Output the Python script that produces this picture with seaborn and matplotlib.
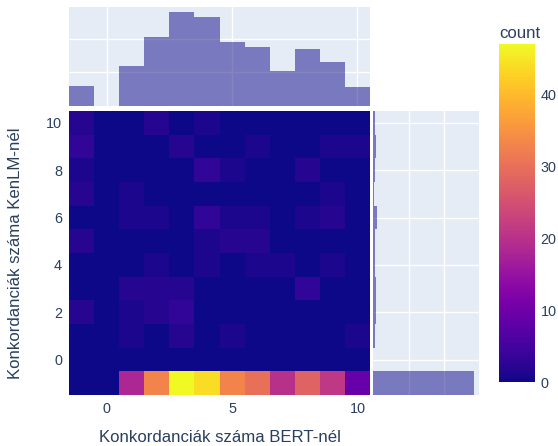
import numpy as np
import pandas as pd
import matplotlib
matplotlib.use("Agg")
import matplotlib.pyplot as plt
import seaborn as sns

# Concordance counts per sentence: BERT (x) vs KenLM (y); -1 marks "no result"
bert_values = [-1, 0, 1, 2, 3, 4, 5, 6, 7, 8, 9, 10]
kenlm_values = [10, 9, 8, 7, 6, 5, 4, 3, 2, 1, 0, -1]

# number of sentences for every (KenLM, BERT) pair; one row per KenLM value
pair_counts = [
    [2, 0, 0, 2, 0, 1, 0, 0, 0, 0, 0, 0],
    [3, 0, 0, 0, 2, 0, 0, 1, 0, 0, 1, 1],
    [1, 0, 0, 0, 0, 3, 1, 0, 0, 2, 0, 0],
    [2, 0, 1, 0, 0, 0, 0, 0, 0, 0, 1, 0],
    [0, 0, 1, 1, 0, 3, 1, 1, 0, 1, 2, 0],
    [2, 0, 0, 0, 0, 1, 2, 2, 0, 0, 0, 0],
    [0, 0, 0, 1, 0, 1, 0, 1, 1, 0, 1, 0],
    [0, 0, 2, 2, 2, 0, 0, 0, 0, 3, 0, 0],
    [2, 0, 1, 2, 3, 0, 0, 0, 0, 0, 0, 0],
    [0, 0, 1, 0, 2, 0, 1, 0, 0, 0, 0, 1],
    [0, 0, 0, 0, 0, 0, 0, 0, 0, 0, 0, 0],
    [0, 0, 18, 33, 47, 44, 33, 30, 20, 28, 21, 9],
]

x_ticks = [0, 5, 10]
y_ticks = [0, 2, 4, 6, 8, 10]
cbar_ticks = [0, 10, 20, 30, 40]

x_title = "Konkordanciák száma BERT-nél"
y_title = "Konkordanciák száma KenLM-nél"
cbar_title = "count"

# expand the table into one row per sentence
records = []
for k, row in zip(kenlm_values, pair_counts):
    for b, c in zip(bert_values, row):
        records.extend([(b, k)] * c)
df = pd.DataFrame(records, columns=["bert", "kenlm"])

TEXT = "#2a3f5f"
PANEL = "#E5ECF6"
BAR = "#0d0887"

sns.set_theme(style="white")
plt.rcParams["font.family"] = ["Liberation Sans", "DejaVu Sans"]
plt.rcParams["text.color"] = TEXT
plt.rcParams["axes.labelcolor"] = TEXT
plt.rcParams["xtick.color"] = TEXT
plt.rcParams["ytick.color"] = TEXT

W, H = 558, 446
fig = plt.figure(figsize=(W / 100, H / 100), dpi=100)


def box(x0, y0, x1, y1):
    return [x0 / W, 1 - y1 / H, (x1 - x0) / W, (y1 - y0) / H]


ax = fig.add_axes(box(69, 111, 370, 395))
ax_top = fig.add_axes(box(69, 7, 370, 106))
ax_right = fig.add_axes(box(373, 111, 479, 395))
cax = fig.add_axes(box(499, 44, 535, 382))

edges = np.arange(-1.5, 11.5, 1.0)

sns.histplot(
    data=df, x="bert", y="kenlm", bins=[edges, edges],
    cmap="plasma", thresh=None, vmin=0, vmax=47,
    cbar=True, cbar_ax=cax, ax=ax,
)
ax.set_xlim(-1.5, 10.5)
ax.set_ylim(-1.5, 10.5)
ax.set_xticks(x_ticks)
ax.set_yticks(y_ticks)
ax.tick_params(length=0, labelsize=10.4, pad=5)
ax.set_xlabel("")
ax.set_ylabel("")
for s in ax.spines.values():
    s.set_visible(False)

fig.text(219.5 / W, 1 - 437 / H, x_title, ha="center", va="center", fontsize=12.1)
fig.text(15.5 / W, 1 - 253 / H, y_title, ha="center", va="center",
         rotation=90, fontsize=12.1)

# marginal histograms
sns.histplot(data=df, x="bert", bins=edges, ax=ax_top, color=BAR,
             alpha=0.5, linewidth=0)
top_max = df["bert"].value_counts().max()
ax_top.set_xlim(-1.5, 10.5)
ax_top.set_ylim(0, top_max * 1.05)
ax_top.set_xticks(x_ticks)
ax_top.set_yticks([20, 40])

sns.histplot(data=df, y="kenlm", bins=edges, ax=ax_right, color=BAR,
             alpha=0.5, linewidth=0)
right_max = df["kenlm"].value_counts().max()
ax_right.set_ylim(-1.5, 10.5)
ax_right.set_xlim(0, right_max * 1.05)
ax_right.set_yticks(y_ticks)
ax_right.set_xticks([100, 200])

for a in (ax_top, ax_right):
    a.set_facecolor(PANEL)
    a.grid(True, color="white", linewidth=1.0)
    a.set_axisbelow(True)
    a.tick_params(length=0, labelbottom=False, labelleft=False)
    a.set_xlabel("")
    a.set_ylabel("")
    for s in a.spines.values():
        s.set_visible(False)

# colour bar
cb = ax.collections[0].colorbar
cb.set_ticks(cbar_ticks)
cb.outline.set_visible(False)
cax.tick_params(length=0, labelsize=10.4, pad=4)
fig.text(499 / W, 1 - 33 / H, cbar_title, ha="left", va="center", fontsize=12.1)

fig.savefig("out.png", dpi=100)
